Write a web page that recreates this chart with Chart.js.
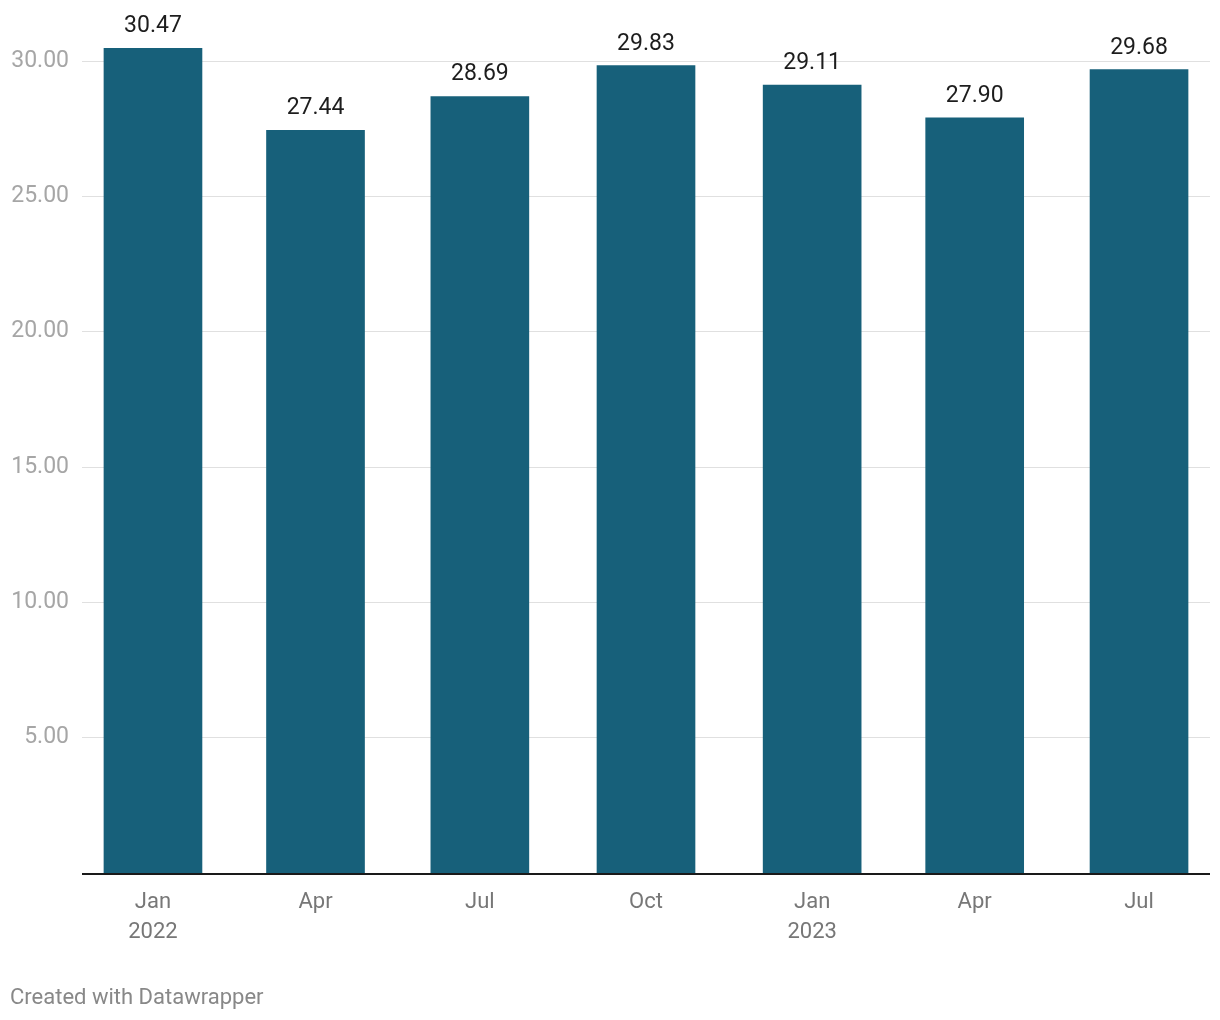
<!DOCTYPE html>
<html>
<head>
<meta charset="utf-8">
<script src="https://cdn.jsdelivr.net/npm/chart.js@4/dist/chart.umd.min.js"></script>
<style>
  html, body { margin: 0; padding: 0; background: #fff; }
  #wrap { position: relative; width: 1220px; height: 1020px; }
  #c { position: absolute; left: 0; top: 0; }
  #footer { position: absolute; left: 10px; top: 984px; font-family: Roboto, sans-serif; font-size: 22px; color: #888; line-height: 26px; }
</style>
</head>
<body>
<div id="wrap">
  <canvas id="c" width="1220" height="1020"></canvas>
  <div id="footer">Created with Datawrapper</div>
</div>
<script>
// ---- data ----
const dates = ["2022-01-01", "2022-04-01", "2022-07-01", "2022-10-01", "2023-01-01", "2023-04-01", "2023-07-01"];
const monthLabels = ["Jan", "Apr", "Jul", "Oct", "Jan", "Apr", "Jul"];
const yearLabels = ["2022", "", "", "", "2023", "", ""];
const values = [30.47, 27.44, 28.69, 29.83, 29.11, 27.90, 29.68];
const yTicks = [5, 10, 15, 20, 25, 30];

const DAY = 86400000;
const t0 = Date.parse(dates[0]);
const days = dates.map(d => Math.round((Date.parse(d) - t0) / DAY));
const points = days.map((d, i) => ({ x: d, y: values[i] }));

const labelPlugin = {
  id: 'valueLabels',
  afterDatasetsDraw(chart) {
    const ctx = chart.ctx;
    const meta = chart.getDatasetMeta(0);
    const yScale = chart.scales.y;
    ctx.save();
    const y0 = Math.round(yScale.getPixelForValue(0));
    ctx.strokeStyle = '#1a1a1a';
    ctx.lineWidth = 2;
    ctx.beginPath();
    ctx.moveTo(chart.chartArea.left, y0 + 1);
    ctx.lineTo(chart.chartArea.right, y0 + 1);
    ctx.stroke();
    ctx.font = '23px Roboto';
    ctx.fillStyle = '#1d1d1d';
    ctx.textAlign = 'center';
    ctx.textBaseline = 'alphabetic';
    meta.data.forEach((bar, i) => {
      ctx.fillText(values[i].toFixed(2), bar.x, bar.y - 16);
    });
    ctx.restore();
  }
};

new Chart(document.getElementById('c'), {
  type: 'bar',
  data: {
    datasets: [{
      data: points,
      backgroundColor: '#17607a',
      barThickness: 98,
      clip: false
    }]
  },
  options: {
    responsive: false,
    animation: false,
    events: [],
    layout: { padding: { top: 61, right: 10, left: 0, bottom: 0 } },
    plugins: { legend: { display: false }, tooltip: { enabled: false } },
    scales: {
      x: {
        type: 'linear',
        offset: false,
        min: -39.3,
        max: 585.3,
        grid: { display: false, drawTicks: false, offset: false },
        border: { display: false },
        afterBuildTicks(scale) { scale.ticks = days.map(v => ({ value: v })); },
        afterFit(scale) { scale.height = 147; },
        ticks: {
          autoSkip: false,
          maxRotation: 0,
          padding: 14,
          color: '#777',
          font: { family: 'Roboto', size: 22, lineHeight: 1.37 },
          callback(value) {
            const i = days.indexOf(value);
            if (i < 0) return '';
            return yearLabels[i] ? [monthLabels[i], yearLabels[i]] : monthLabels[i];
          }
        }
      },
      y: {
        min: 0,
        max: 30,
        grid: { color: '#e0e0e0', lineWidth: 1, drawTicks: false },
        border: { display: false },
        afterBuildTicks(scale) { scale.ticks = yTicks.map(v => ({ value: v })); },
        afterFit(scale) { scale.width = 82; },
        ticks: {
          padding: 13,
          color: '#a6a6a6',
          font: { family: 'Roboto', size: 23 },
          callback(value) { return value.toFixed(2); }
        }
      }
    }
  },
  plugins: [labelPlugin]
});
</script>
</body>
</html>
